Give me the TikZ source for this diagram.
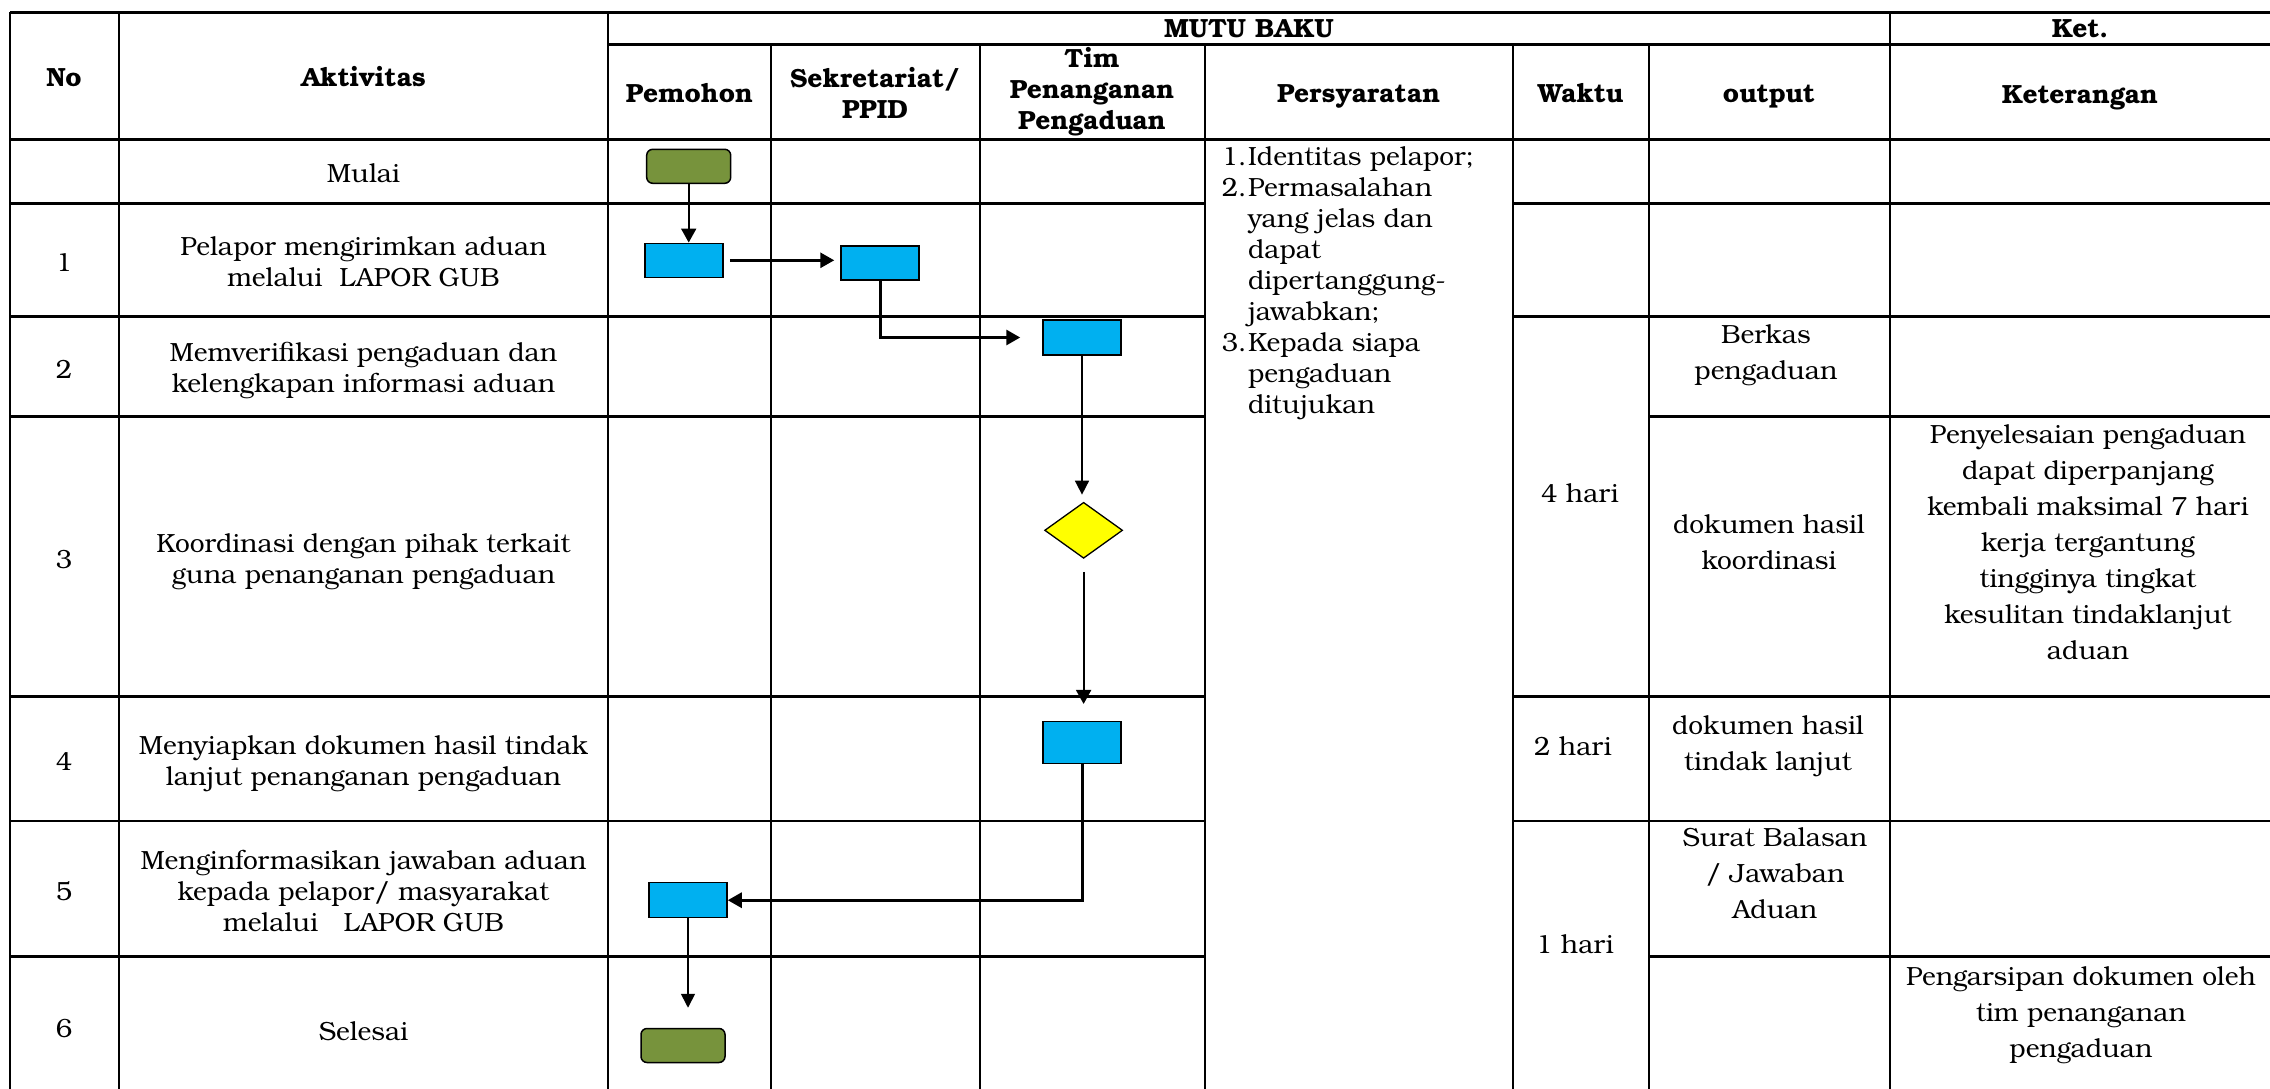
\documentclass[tikz,border=0pt]{standalone}
\usepackage{fontspec}
\setmainfont{texgyrebonum}[Extension=.otf, UprightFont=*-regular, BoldFont=*-bold, ItalicFont=*-italic, BoldItalicFont=*-bolditalic]
\usetikzlibrary{arrows.meta,shapes.geometric}
\definecolor{procblue}{HTML}{00B0F0}
\definecolor{termgreen}{HTML}{77933C}
\definecolor{decyellow}{HTML}{FFFF00}
\tikzset{
  hline/.style={line width=2.8pt},
  vline/.style={line width=2pt},
  txt/.style={font=\fontsize{26.3}{31}\selectfont, align=center, inner sep=0pt,
    execute at begin node=\strut, execute at end node=\strut},
  txtR/.style={txt, font=\fontsize{26.3}{36}\selectfont},
  hdr/.style={txt, font=\fontsize{26.3}{31}\selectfont\bfseries},
  proc/.style={draw=black, line width=1.5pt, fill=procblue, minimum width=78pt, minimum height=34pt, inner sep=0pt},
  term/.style={draw=black, line width=1.5pt, fill=termgreen, rounded corners=6pt, minimum width=84pt, minimum height=34pt, inner sep=0pt},
  dec/.style={diamond, aspect=1.4, draw=black, line width=1.3pt, fill=decyellow, minimum width=78pt, minimum height=56pt, inner sep=0pt},
  flow/.style={line width=2pt, -{Triangle[length=14pt,width=15pt]}},
  flowthin/.style={line width=1.6pt, -{Triangle[length=14pt,width=14pt]}},
  flowthick/.style={line width=3pt, -{Triangle[length=14pt,width=15pt]}},
}
\begin{document}
\begin{tikzpicture}[x=1pt,y=-1pt]
\useasboundingbox (0,0) rectangle (2270,1089);
\clip (0,0) rectangle (2270,1089);
% ---------- grid ----------
\def\yT{12.3} \def\yM{44.3} \def\yH{139.3}
\def\yA{203.3} \def\yB{316.7} \def\yC{416.7} \def\yD{696.7} \def\yE{821} \def\yF{956.7} \def\yG{1097}
\def\xL{10} \def\xNo{118.6} \def\xAk{608.4} \def\xPe{770.6} \def\xSe{979.6} \def\xTi{1204.5}
\def\xPs{1512.7} \def\xWa{1648.5} \def\xOu{1889.6} \def\xR{2272}
\draw[hline] (\xL,\yT) -- (\xR,\yT);
\draw[hline] (\xAk,\yM) -- (\xR,\yM);
\draw[hline] (\xL,\yH) -- (\xR,\yH);
\foreach \yy in {\yA,\yB,\yD,\yE} {
  \draw[hline] (\xL,\yy) -- (\xTi,\yy);
  \draw[hline] (\xPs,\yy) -- (\xR,\yy);
}
\foreach \yy in {\yC,\yF} {
  \draw[hline] (\xL,\yy) -- (\xTi,\yy);
  \draw[hline] (\xWa,\yy) -- (\xR,\yy);
}
\draw[hline] (\xL,\yG) -- (\xR,\yG);
\foreach \xx in {\xL,\xNo,\xAk,\xOu,\xR} \draw[vline] (\xx,\yT) -- (\xx,\yG);
\foreach \xx in {\xPe,\xSe,\xTi,\xPs,\xWa} \draw[vline] (\xx,\yM) -- (\xx,\yG);
% ---------- header ----------
\node[hdr] (hNo) at (64,80) {No};
\node[hdr] (hAk) at (363.5,80) {Aktivitas};
\node[hdr] (hMutu) at (1249,31) {MUTU BAKU};
\node[hdr] (hKet) at (2080,31) {Ket.};
\node[hdr] (hPem) at (689.5,96) {Pemohon};
\node[hdr] (hSek) at (875,98) {Sekretariat/\\PPID};
\node[hdr] (hTim) at (1092,93) {Tim\\Penanganan\\Pengaduan};
\node[hdr] (hPer) at (1358.6,96) {Persyaratan};
\node[hdr] (hWak) at (1580.6,96) {Waktu};
\node[hdr] (hOut) at (1769,96) {output};
\node[hdr] (hKeter) at (2080,97) {Keterangan};
% ---------- No column ----------
\node[txt] (n1) at (64,265) {1};
\node[txt] (n2) at (64,372) {2};
\node[txt] (n3) at (64,562) {3};
\node[txt] (n4) at (64,764) {4};
\node[txt] (n5) at (64,894) {5};
\node[txt] (n6) at (64,1031) {6};
% ---------- Aktivitas ----------
\node[txt] (a0) at (363.5,176.7) {Mulai};
\node[txt] (a1) at (363.5,266) {Pelapor mengirimkan aduan\\melalui\ \ LAPOR GUB};
\node[txt] (a2) at (363.5,372.4) {Memverifikasi pengaduan dan\\kelengkapan informasi aduan};
\node[txt] (a3) at (363.5,562.8) {Koordinasi dengan pihak terkait\\guna penanganan pengaduan};
\node[txt] (a4) at (363.5,765) {Menyiapkan dokumen hasil tindak\\lanjut penanganan pengaduan};
\node[txt] (a5) at (363.5,895) {Menginformasikan jawaban aduan\\kepada pelapor/ masyarakat\\melalui\ \ \ LAPOR GUB};
\node[txt] (a6) at (363.5,1034) {Selesai};
% ---------- Persyaratan ----------
\node[txt, align=left, anchor=north west] (syarat) at (1221.6,146.5)
 {\makebox[26.2pt][l]{1.}Identitas pelapor;\\
  \makebox[26.2pt][l]{2.}Permasalahan\\
  \hspace*{26.2pt}yang jelas dan\\
  \hspace*{26.2pt}dapat\\
  \hspace*{26.2pt}dipertanggung-\\
  \hspace*{26.2pt}jawabkan;\\
  \makebox[26.2pt][l]{3.}Kepada siapa\\
  \hspace*{26.2pt}pengaduan\\
  \hspace*{26.2pt}ditujukan};
% ---------- Waktu ----------
\node[txt] (w1) at (1580,496) {4 hari};
\node[txt] (w2) at (1573,749) {2 hari};
\node[txt] (w3) at (1575,947) {1 hari};
% ---------- output ----------
\node[txtR] (o2) at (1766,357) {Berkas\\pengaduan};
\node[txtR] (o3) at (1769,547) {dokumen hasil\\koordinasi};
\node[txtR] (o4) at (1768,748) {dokumen hasil\\tindak lanjut};
\node[txtR] (o5) at (1775,878) {Surat Balasan\\/ Jawaban\\Aduan};
% ---------- Keterangan ----------
\node[txtR] (k3) at (2088,547) {Penyelesaian pengaduan\\dapat diperpanjang\\kembali maksimal 7 hari\\kerja tergantung\\tingginya tingkat\\kesulitan tindaklanjut\\aduan};
\node[txtR] (k6) at (2081,1017) {Pengarsipan dokumen oleh\\tim penanganan\\pengaduan};
% ---------- flow shapes ----------
\node[term] (start) at (688.7,166.3) {};
\node[proc] (b1) at (684,260.3) {};
\node[proc] (b2) at (880,263) {};
\node[proc, minimum height=35pt] (b3) at (1082,337.5) {};
\node[dec] (dd) at (1083.6,530.3) {};
\node[proc, minimum height=41.6pt] (b4) at (1082,742.5) {};
\node[proc, minimum height=35pt] (b5) at (688,900.2) {};
\node[term] (stop) at (683,1045.5) {};
% ---------- connectors ----------
\draw[flow] (start.south) -- (start.south |- b1.north);
\draw[flowthick, shorten <=6pt, shorten >=6pt] (b1.east) -- (b1.east -| b2.west);
\draw[flowthick, shorten >=22pt] (b2.south) |- (b3.west);
\draw[flowthin, shorten >=7pt] (b3.south) -- (b3.south |- dd.north);
\draw[flow, shorten <=13pt, shorten >=17pt] (dd.south) -- (dd.south |- b4.north);
\draw[flowthick] (b4.south) |- (b5.east);
\draw[flowthin, shorten >=20pt] (b5.south) -- (b5.south |- stop.north);
\end{tikzpicture}
\end{document}
